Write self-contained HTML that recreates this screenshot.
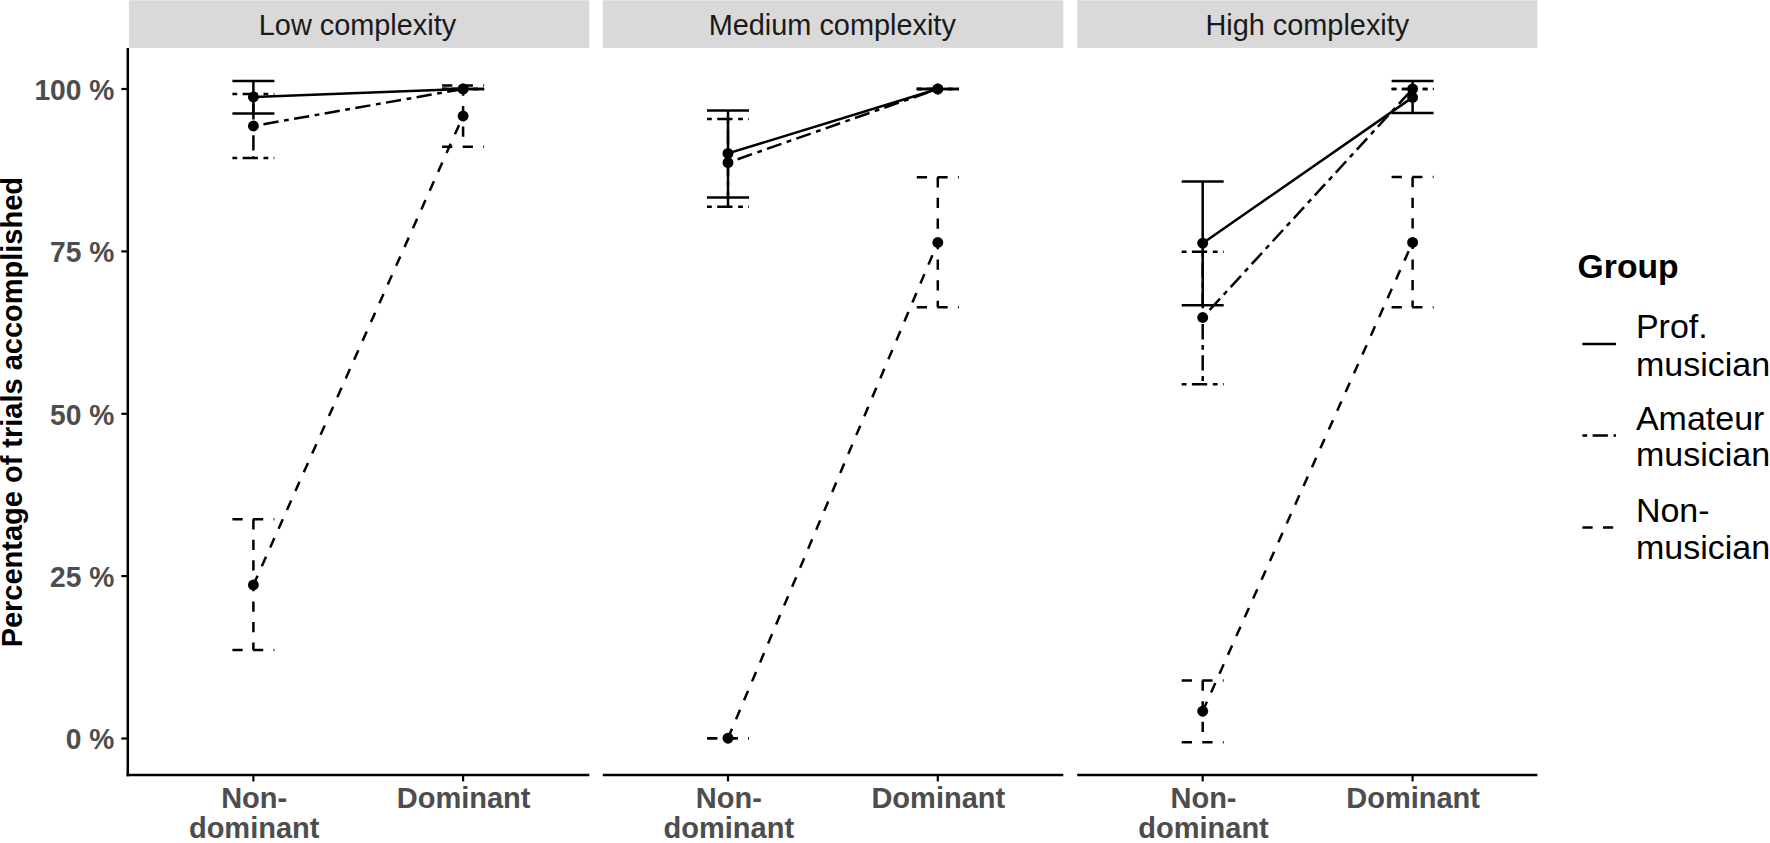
<!DOCTYPE html>
<html lang="en"><head><meta charset="utf-8"><title>Percentage of trials accomplished</title>
<style>html,body{margin:0;padding:0;background:#fff;overflow:hidden}svg{display:block}text{font-family:"Liberation Sans",sans-serif}.b{font-weight:bold}.ax{fill:#4d4d4d}.st{fill:#1a1a1a}.k{fill:#000}.ln{stroke:#000;fill:none;stroke-linecap:butt}</style></head><body>
<svg width="1770" height="843" viewBox="0 0 1770 843">
<rect width="1770" height="843" fill="#fff"/>
<g>
<rect x="129.0" y="0.3" width="460.3" height="47.6" fill="#d9d9d9"/>
<text class="st" transform="translate(357.45,35.30) scale(0.9630,1.0000)" font-size="30.0" text-anchor="middle">Low complexity</text>
<rect x="602.8" y="0.3" width="460.5" height="47.6" fill="#d9d9d9"/>
<text class="st" transform="translate(832.25,35.30) scale(0.9630,1.0000)" font-size="30.0" text-anchor="middle">Medium complexity</text>
<rect x="1077.2" y="0.3" width="460.2" height="47.6" fill="#d9d9d9"/>
<text class="st" transform="translate(1307.30,35.30) scale(0.9630,1.0000)" font-size="30.0" text-anchor="middle">High complexity</text>
<line class="ln" x1="127.8" x2="127.8" y1="48" y2="776.15" stroke-width="2.5"/>
<line class="ln" x1="126.55" x2="589.3" y1="774.9" y2="774.9" stroke-width="2.5"/>
<line class="ln" x1="253.4" x2="253.4" y1="775" y2="781.4" stroke-width="2.2" stroke="#333"/>
<line class="ln" x1="463.1" x2="463.1" y1="775" y2="781.4" stroke-width="2.2" stroke="#333"/>
<line class="ln" x1="602.8" x2="1063.3" y1="774.9" y2="774.9" stroke-width="2.5"/>
<line class="ln" x1="728.0" x2="728.0" y1="775" y2="781.4" stroke-width="2.2" stroke="#333"/>
<line class="ln" x1="937.8" x2="937.8" y1="775" y2="781.4" stroke-width="2.2" stroke="#333"/>
<line class="ln" x1="1077.2" x2="1537.4" y1="774.9" y2="774.9" stroke-width="2.5"/>
<line class="ln" x1="1202.7" x2="1202.7" y1="775" y2="781.4" stroke-width="2.2" stroke="#333"/>
<line class="ln" x1="1412.6" x2="1412.6" y1="775" y2="781.4" stroke-width="2.2" stroke="#333"/>
<line class="ln" x1="121.3" x2="126.8" y1="89.0" y2="89.0" stroke-width="2.2" stroke="#333"/>
<text class="b ax" transform="translate(114.40,99.90) scale(0.9770,1.0000)" font-size="28.9" text-anchor="end">100 %</text>
<line class="ln" x1="121.3" x2="126.8" y1="251.4" y2="251.4" stroke-width="2.2" stroke="#333"/>
<text class="b ax" transform="translate(114.40,262.27) scale(0.9770,1.0000)" font-size="28.9" text-anchor="end">75 %</text>
<line class="ln" x1="121.3" x2="126.8" y1="413.8" y2="413.8" stroke-width="2.2" stroke="#333"/>
<text class="b ax" transform="translate(114.40,424.65) scale(0.9770,1.0000)" font-size="28.9" text-anchor="end">50 %</text>
<line class="ln" x1="121.3" x2="126.8" y1="576.1" y2="576.1" stroke-width="2.2" stroke="#333"/>
<text class="b ax" transform="translate(114.40,587.02) scale(0.9770,1.0000)" font-size="28.9" text-anchor="end">25 %</text>
<line class="ln" x1="121.3" x2="126.8" y1="738.5" y2="738.5" stroke-width="2.2" stroke="#333"/>
<text class="b ax" transform="translate(114.40,749.40) scale(0.9770,1.0000)" font-size="28.9" text-anchor="end">0 %</text>
<text class="b ax" transform="translate(254.20,808.30) scale(0.9770,1.0000)" font-size="29.7" text-anchor="middle">Non-</text>
<text class="b ax" transform="translate(254.20,838.00) scale(0.9770,1.0000)" font-size="29.7" text-anchor="middle">dominant</text>
<text class="b ax" transform="translate(463.60,808.30) scale(0.9770,1.0000)" font-size="29.7" text-anchor="middle">Dominant</text>
<text class="b ax" transform="translate(728.80,808.30) scale(0.9770,1.0000)" font-size="29.7" text-anchor="middle">Non-</text>
<text class="b ax" transform="translate(728.80,838.00) scale(0.9770,1.0000)" font-size="29.7" text-anchor="middle">dominant</text>
<text class="b ax" transform="translate(938.30,808.30) scale(0.9770,1.0000)" font-size="29.7" text-anchor="middle">Dominant</text>
<text class="b ax" transform="translate(1203.50,808.30) scale(0.9770,1.0000)" font-size="29.7" text-anchor="middle">Non-</text>
<text class="b ax" transform="translate(1203.50,838.00) scale(0.9770,1.0000)" font-size="29.7" text-anchor="middle">dominant</text>
<text class="b ax" transform="translate(1413.10,808.30) scale(0.9770,1.0000)" font-size="29.7" text-anchor="middle">Dominant</text>
<text class="b k" transform="translate(21.6,412.2) rotate(-90) scale(0.957,1)" font-size="30.3" text-anchor="middle">Percentage of trials accomplished</text>
<path class="ln" d="M232.4 81.0H274.4" stroke-width="2.5"/><path class="ln" d="M253.4 81.0V113.4" stroke-width="2.5"/><path class="ln" d="M232.4 113.4H274.4" stroke-width="2.5"/>
<path class="ln" d="M442.1 89.0H484.1" stroke-width="2.5"/><path class="ln" d="M442.1 89.0H484.1" stroke-width="2.5"/>
<path class="ln" d="M232.4 94.0H274.4" stroke-width="2.5" stroke-dasharray="4.8 5.4 15.3 5.6"/><path class="ln" d="M253.4 94.0V158.1" stroke-width="2.5" stroke-dasharray="4.8 5.4 15.3 5.6"/><path class="ln" d="M232.4 158.1H274.4" stroke-width="2.5" stroke-dasharray="4.8 5.4 15.3 5.6"/>
<path class="ln" d="M442.1 89.0H484.1" stroke-width="2.5" stroke-dasharray="4.8 5.4 15.3 5.6"/><path class="ln" d="M442.1 89.0H484.1" stroke-width="2.5" stroke-dasharray="4.8 5.4 15.3 5.6"/>
<path class="ln" d="M232.4 519.2H274.4" stroke-width="2.5" stroke-dasharray="10.25 10.32"/><path class="ln" d="M253.4 519.2V650.0" stroke-width="2.5" stroke-dasharray="10.25 10.32"/><path class="ln" d="M232.4 650.0H274.4" stroke-width="2.5" stroke-dasharray="10.25 10.32"/>
<path class="ln" d="M442.1 85.4H484.1" stroke-width="2.5" stroke-dasharray="10.25 10.32"/><path class="ln" d="M463.1 85.4V146.8" stroke-width="2.5" stroke-dasharray="10.25 10.32"/><path class="ln" d="M442.1 146.8H484.1" stroke-width="2.5" stroke-dasharray="10.25 10.32"/>
<path class="ln" d="M253.4 97.0L463.1 89.0" stroke-width="2.5"/>
<path class="ln" d="M253.4 126.0L463.1 89.0" stroke-width="2.5" stroke-dasharray="4.8 5.4 15.3 5.6"/>
<path class="ln" d="M253.4 585.0L463.1 116.0" stroke-width="2.5" stroke-dasharray="10.25 10.32"/>
<circle cx="253.4" cy="97.0" r="5.45"/><circle cx="463.1" cy="89.0" r="5.45"/>
<circle cx="253.4" cy="126.0" r="5.45"/><circle cx="463.1" cy="89.0" r="5.45"/>
<circle cx="253.4" cy="585.0" r="5.45"/><circle cx="463.1" cy="116.0" r="5.45"/>
<path class="ln" d="M707.0 110.4H749.0" stroke-width="2.5"/><path class="ln" d="M728.0 110.4V197.6" stroke-width="2.5"/><path class="ln" d="M707.0 197.6H749.0" stroke-width="2.5"/>
<path class="ln" d="M916.8 89.0H958.8" stroke-width="2.5"/><path class="ln" d="M916.8 89.0H958.8" stroke-width="2.5"/>
<path class="ln" d="M707.0 119.0H749.0" stroke-width="2.5" stroke-dasharray="4.8 5.4 15.3 5.6"/><path class="ln" d="M728.0 119.0V206.8" stroke-width="2.5" stroke-dasharray="4.8 5.4 15.3 5.6"/><path class="ln" d="M707.0 206.8H749.0" stroke-width="2.5" stroke-dasharray="4.8 5.4 15.3 5.6"/>
<path class="ln" d="M916.8 89.0H958.8" stroke-width="2.5" stroke-dasharray="4.8 5.4 15.3 5.6"/><path class="ln" d="M916.8 89.0H958.8" stroke-width="2.5" stroke-dasharray="4.8 5.4 15.3 5.6"/>
<path class="ln" d="M707.0 738.2H749.0" stroke-width="2.5" stroke-dasharray="10.25 10.32"/><path class="ln" d="M707.0 738.2H749.0" stroke-width="2.5" stroke-dasharray="10.25 10.32"/>
<path class="ln" d="M916.8 177.3H958.8" stroke-width="2.5" stroke-dasharray="10.25 10.32"/><path class="ln" d="M937.8 177.3V307.3" stroke-width="2.5" stroke-dasharray="10.25 10.32"/><path class="ln" d="M916.8 307.3H958.8" stroke-width="2.5" stroke-dasharray="10.25 10.32"/>
<path class="ln" d="M728.0 153.4L937.8 89.0" stroke-width="2.5"/>
<path class="ln" d="M728.0 162.6L937.8 89.0" stroke-width="2.5" stroke-dasharray="4.8 5.4 15.3 5.6"/>
<path class="ln" d="M728.0 738.2L937.8 242.5" stroke-width="2.5" stroke-dasharray="10.25 10.32"/>
<circle cx="728.0" cy="153.4" r="5.45"/><circle cx="937.8" cy="89.0" r="5.45"/>
<circle cx="728.0" cy="162.6" r="5.45"/><circle cx="937.8" cy="89.0" r="5.45"/>
<circle cx="728.0" cy="738.2" r="5.45"/><circle cx="937.8" cy="242.5" r="5.45"/>
<path class="ln" d="M1181.7 181.4H1223.7" stroke-width="2.5"/><path class="ln" d="M1202.7 181.4V305.3" stroke-width="2.5"/><path class="ln" d="M1181.7 305.3H1223.7" stroke-width="2.5"/>
<path class="ln" d="M1391.6 80.9H1433.6" stroke-width="2.5"/><path class="ln" d="M1412.6 80.9V113.1" stroke-width="2.5"/><path class="ln" d="M1391.6 113.1H1433.6" stroke-width="2.5"/>
<path class="ln" d="M1181.7 251.7H1223.7" stroke-width="2.5" stroke-dasharray="4.8 5.4 15.3 5.6"/><path class="ln" d="M1202.7 251.7V384.2" stroke-width="2.5" stroke-dasharray="4.8 5.4 15.3 5.6"/><path class="ln" d="M1181.7 384.2H1223.7" stroke-width="2.5" stroke-dasharray="4.8 5.4 15.3 5.6"/>
<path class="ln" d="M1391.6 88.9H1433.6" stroke-width="2.5" stroke-dasharray="4.8 5.4 15.3 5.6"/><path class="ln" d="M1391.6 88.9H1433.6" stroke-width="2.5" stroke-dasharray="4.8 5.4 15.3 5.6"/>
<path class="ln" d="M1181.7 680.6H1223.7" stroke-width="2.5" stroke-dasharray="10.25 10.32"/><path class="ln" d="M1202.7 680.6V742.2" stroke-width="2.5" stroke-dasharray="10.25 10.32"/><path class="ln" d="M1181.7 742.2H1223.7" stroke-width="2.5" stroke-dasharray="10.25 10.32"/>
<path class="ln" d="M1391.6 177.1H1433.6" stroke-width="2.5" stroke-dasharray="10.25 10.32"/><path class="ln" d="M1412.6 177.1V307.2" stroke-width="2.5" stroke-dasharray="10.25 10.32"/><path class="ln" d="M1391.6 307.2H1433.6" stroke-width="2.5" stroke-dasharray="10.25 10.32"/>
<path class="ln" d="M1202.7 243.2L1412.6 97.4" stroke-width="2.5"/>
<path class="ln" d="M1202.7 317.5L1412.6 88.9" stroke-width="2.5" stroke-dasharray="4.8 5.4 15.3 5.6"/>
<path class="ln" d="M1202.7 711.2L1412.6 242.4" stroke-width="2.5" stroke-dasharray="10.25 10.32"/>
<circle cx="1202.7" cy="243.2" r="5.45"/><circle cx="1412.6" cy="97.4" r="5.45"/>
<circle cx="1202.7" cy="317.5" r="5.45"/><circle cx="1412.6" cy="88.9" r="5.45"/>
<circle cx="1202.7" cy="711.2" r="5.45"/><circle cx="1412.6" cy="242.4" r="5.45"/>
<text class="b k" transform="translate(1577.60,277.80) scale(0.9970,1.0000)" font-size="33.8" text-anchor="start">Group</text>
<path class="ln" d="M1582.4 343.9H1616" stroke-width="2.5"/>
<path class="ln" d="M1582.4 435.6H1616" stroke-width="2.5" stroke-dasharray="4.8 5.4 15.3 5.6"/>
<path class="ln" d="M1582.4 527.4H1616" stroke-width="2.5" stroke-dasharray="10.25 10.32"/>
<text class="k" transform="translate(1635.90,338.00) scale(1.0000,1.0000)" font-size="34.0" text-anchor="start">Prof.</text>
<text class="k" transform="translate(1635.90,375.60) scale(1.0000,1.0000)" font-size="34.0" text-anchor="start">musician</text>
<text class="k" transform="translate(1635.90,429.90) scale(1.0000,1.0000)" font-size="34.0" text-anchor="start">Amateur</text>
<text class="k" transform="translate(1635.90,466.40) scale(1.0000,1.0000)" font-size="34.0" text-anchor="start">musician</text>
<text class="k" transform="translate(1635.90,522.10) scale(1.0000,1.0000)" font-size="34.0" text-anchor="start">Non-</text>
<text class="k" transform="translate(1635.90,558.60) scale(1.0000,1.0000)" font-size="34.0" text-anchor="start">musician</text>
</g></svg></body></html>
